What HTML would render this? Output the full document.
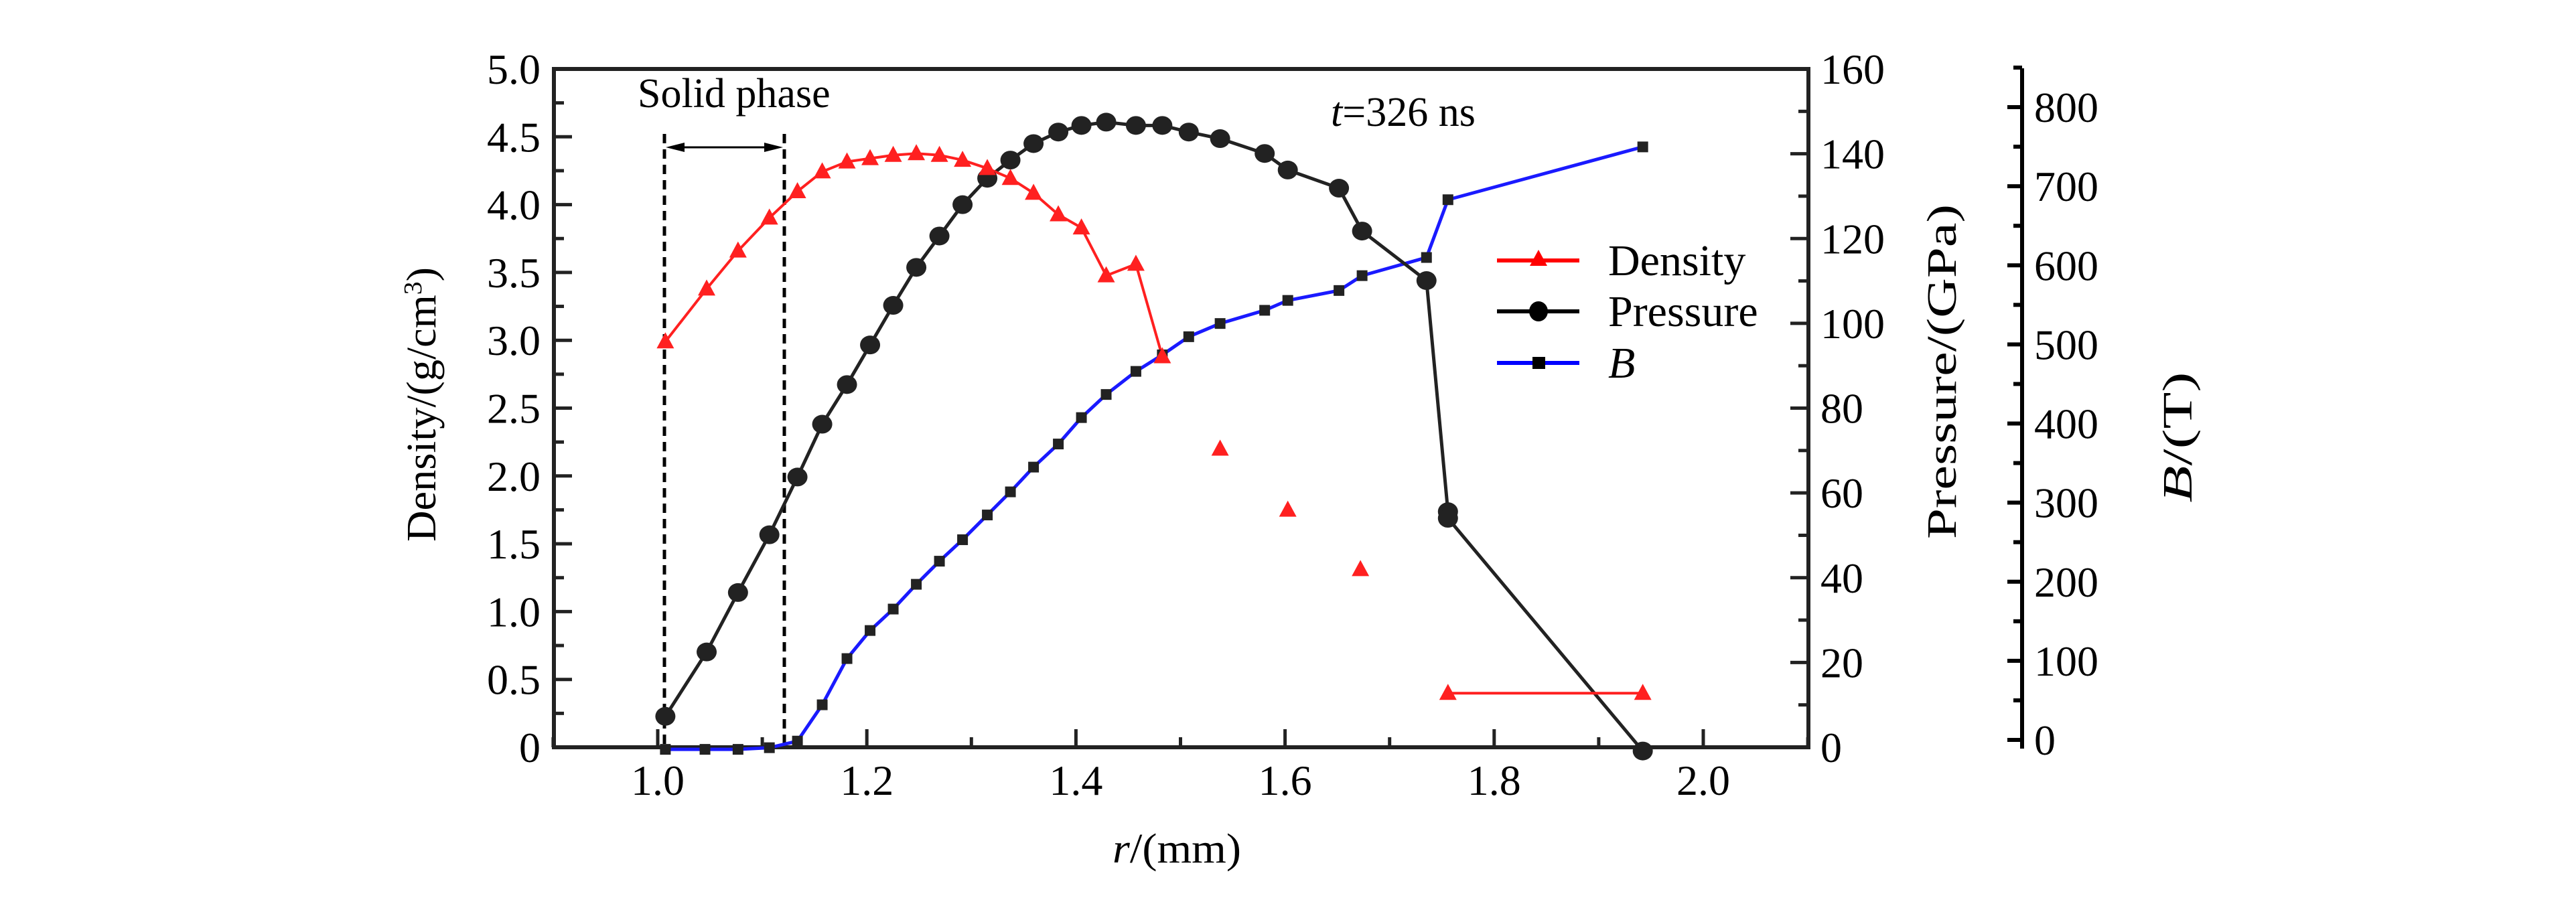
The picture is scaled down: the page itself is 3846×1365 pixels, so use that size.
<!DOCTYPE html>
<html><head><meta charset="utf-8"><style>
html,body{margin:0;padding:0;background:#fff;}
svg{display:block;}
svg text{font-family:"Liberation Serif","DejaVu Serif",serif;}
</style></head><body>
<svg id="s" width="3846" height="1365" viewBox="0 0 3846 1365" xmlns="http://www.w3.org/2000/svg" font-family="Liberation Serif, serif">
<rect width="3846" height="1365" fill="#fff"/>
<g id="g"></g>
<text x="952" y="160" font-size="62">Solid phase</text>
<text x="1987" y="188" font-size="62"><tspan font-style="italic">t</tspan>=326 ns</text>
<text x="1661" y="1288" font-size="62" textLength="192" lengthAdjust="spacingAndGlyphs"><tspan font-style="italic">r</tspan>/(mm)</text>
<text transform="translate(650,604) rotate(-90)" text-anchor="middle" font-size="62" textLength="410" lengthAdjust="spacingAndGlyphs">Density/(g/cm<tspan baseline-shift="super" font-size="38">3</tspan>)</text>
<text transform="translate(2920,555) rotate(-90)" text-anchor="middle" font-size="62" textLength="500" lengthAdjust="spacingAndGlyphs">Pressure/(GPa)</text>
<text transform="translate(3272,653) rotate(-90)" text-anchor="middle" font-size="62" textLength="195" lengthAdjust="spacingAndGlyphs"><tspan font-style="italic">B</tspan>/(T)</text>
<text x="2401" y="411" font-size="66">Density</text>
<text x="2401" y="487" font-size="66">Pressure</text>
<text x="2401" y="564" font-size="66" font-style="italic">B</text>
</svg>
<script>
var g=document.getElementById('g'),h='';
var L=827,R=2700,T=103,B=1116;
var FF=' font-family="Liberation Serif, serif"';
function X(r){return 982+(r-1.0)*1561;}
function YD(d){return B-d/5*(B-T);}
function YP(p){return B-p/160*(B-T);}
h+='<rect x="'+L+'" y="'+T+'" width="'+(R-L)+'" height="'+(B-T)+'" fill="none" stroke="#222" stroke-width="6"/>';
for(var i=0;i<=20;i++){var d=i*0.25,y=YD(d),len=(i%2==0)?27:15;
 h+='<line x1="'+L+'" y1="'+y+'" x2="'+(L+len)+'" y2="'+y+'" stroke="#222" stroke-width="5"/>';
 if(i%2==0){h+='<text'+FF+' x="'+(L-20)+'" y="'+(y+22)+'" font-size="64" text-anchor="end">'+(d==0?'0':d.toFixed(1))+'</text>';}}
for(var i=0;i<=16;i++){var p=i*10,y=YP(p),len=(i%2==0)?27:15;
 h+='<line x1="'+R+'" y1="'+y+'" x2="'+(R-len)+'" y2="'+y+'" stroke="#222" stroke-width="5"/>';
 if(i%2==0){h+='<text'+FF+' x="'+(R+18)+'" y="'+(y+22)+'" font-size="64">'+p+'</text>';}}
for(var i=0;i<=12;i++){var r=0.9+i*0.1,x=X(r),len=(i%2==1)?27:15;
 h+='<line x1="'+x+'" y1="'+B+'" x2="'+x+'" y2="'+(B-len)+'" stroke="#222" stroke-width="5"/>';
 if(i%2==1){h+='<text'+FF+' x="'+x+'" y="1187" font-size="64" text-anchor="middle">'+r.toFixed(1)+'</text>';}}
var BX=3019,B0=1105,B8=160;function YB(b){return B0-b/800*(B0-B8);}
h+='<line x1="'+BX+'" y1="102" x2="'+BX+'" y2="1118" stroke="#000" stroke-width="6"/>';
for(var i=0;i<=17;i++){var b=i*50,y=YB(b),len=(i%2==0)?22:13;
 h+='<line x1="'+BX+'" y1="'+y+'" x2="'+(BX-len)+'" y2="'+y+'" stroke="#000" stroke-width="6"/>';
 if(i%2==0&&b<=800){h+='<text'+FF+' x="3037" y="'+(y+22)+'" font-size="64">'+b+'</text>';}}
h+='<line x1="992" y1="200" x2="992" y2="1116" stroke="#000" stroke-width="5" stroke-dasharray="14,9"/>';
h+='<line x1="1171" y1="200" x2="1171" y2="1116" stroke="#000" stroke-width="5" stroke-dasharray="14,9"/>';
h+='<line x1="1010" y1="220" x2="1153" y2="220" stroke="#000" stroke-width="3"/>';
h+='<polygon points="994,220 1022,213 1022,227" fill="#000"/><polygon points="1169,220 1141,213 1141,227" fill="#000"/>';
var k=2.465;
function pts(a){return a.map(function(p){return [p[0]*k,p[1]*k];});}
var dens=pts([[403,207],[428,175],[447,152],[466,132],[483,116],[498,104],[513,98],[527,96],[541,94],[555,93],[569,94],[583,97],[598,102],[612,108],[626,117],[641,130],[655,138],[670,167],[688,160],[704,216]]);
var densIso=pts([[739,272],[780,309],[824,345]]);
var densEnd=pts([[877,420],[995,420]]);
var pres=pts([[403,434],[428,395],[447,359],[466,324],[483,289],[498,257],[513,233],[527,209],[541,185],[555,162],[569,143],[583,124],[598,108],[612,97],[626,87],[641,80],[655,76],[670,74],[688,76],[704,76],[720,80],[739,84],[766,93],[780,103],[811,114],[825,140],[864,170],[877,310],[877,314],[995,455]]);
var bf=pts([[403,454],[427,454],[447,454],[466,453],[483,449],[498,427],[513,399],[527,382],[541,369],[555,354],[569,340],[583,327],[598,312],[612,298],[626,283],[641,269],[655,253],[670,239],[688,225],[704,215],[720,204],[739,196],[766,188],[780,182],[811,176],[825,167],[864,156],[877,121],[995,89]]);
function poly(a,c,w){return '<polyline points="'+a.map(function(p){return p.join(',')}).join(' ')+'" fill="none" stroke="'+c+'" stroke-width="'+w+'"/>';}
function tri(p,c){var x=p[0],y=p[1];return '<polygon points="'+x+','+(y-14)+' '+(x-13)+','+(y+10)+' '+(x+13)+','+(y+10)+'" fill="'+c+'"/>';}
h+=poly(bf,'#1a1aff',5);
h+=poly(pres,'#222',5);
h+=poly(dens,'#ff2020',4);
h+=poly(densEnd,'#ff2020',4);
bf.forEach(function(p){h+='<rect x="'+(p[0]-8)+'" y="'+(p[1]-8)+'" width="16" height="16" fill="#222"/>';});
pres.forEach(function(p){h+='<ellipse cx="'+p[0]+'" cy="'+p[1]+'" rx="15" ry="14" fill="#222"/>';});
dens.concat(densIso,densEnd).forEach(function(p){h+=tri(p,'#ff2020');});
h+='<line x1="2235" y1="389" x2="2358" y2="389" stroke="#ff0000" stroke-width="6"/>'+tri([2297,387],'#ff0000');
h+='<line x1="2235" y1="465" x2="2358" y2="465" stroke="#000" stroke-width="6"/><ellipse cx="2297" cy="465" rx="14" ry="15" fill="#000"/>';
h+='<line x1="2235" y1="542" x2="2358" y2="542" stroke="#0000ff" stroke-width="6"/><rect x="2288" y="533" width="19" height="18" fill="#000"/>';
g.innerHTML=h;
</script>
</body></html>
